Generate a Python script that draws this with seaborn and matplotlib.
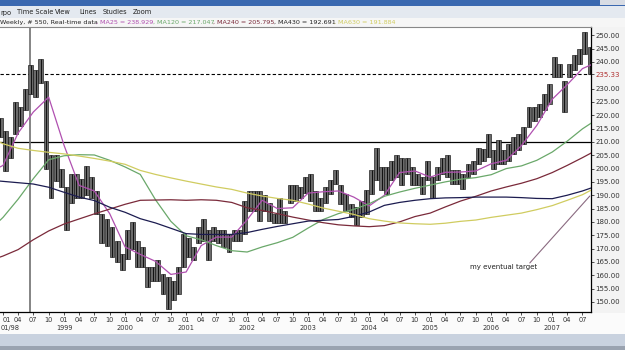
import numpy as np
import pandas as pd
import matplotlib
matplotlib.use("Agg")
import matplotlib.pyplot as plt
from matplotlib.patches import Rectangle
import seaborn as sns

sns.set_theme(style="white")
plt.rcParams["font.family"] = ["DejaVu Sans"]

# ---------------- data ----------------
# monthly price ranges (high / low), Dec 1997 .. Aug 2007
price_months = pd.date_range("1997-12-01", "2007-08-01", freq="MS")
price_high = [219, 214, 212, 225, 223, 230, 239, 237, 241, 233, 205, 205, 200,
              193, 198, 198, 196, 201, 197, 191.5, 183, 181, 178, 173, 168,
              177, 180, 173, 170.6, 163, 163, 165.6, 160.6, 159.3, 158, 163, 175.6,
              174, 170.6, 178, 181, 177, 178, 177, 177, 175.6, 177, 177, 188,
              191.6, 191.6, 191.6, 190, 187, 183, 189, 184, 194, 194, 193, 197,
              198, 191.6, 189, 193, 195.6, 199.3, 194, 190.5, 186.8, 185.6, 188, 192,
              199.3, 207.8, 200.6, 200.6, 203, 205, 204, 204, 200.6, 198, 196.8, 203,
              196.8, 200.6, 204, 205, 199.3, 199.3, 198, 201.8, 203, 207.8, 207.5, 213,
              206.8, 210.6, 206.8, 209.3, 211.8, 213, 215.6, 223, 223, 224.3, 228, 231.8,
              241.8, 239.3, 233, 239.3, 242.5, 245, 251.2, 245.6]
price_low = [212, 199, 204, 213, 216, 222, 228, 227, 232, 200, 189, 195.5, 193,
             177, 187, 189, 189, 190, 189, 183, 172, 171, 167, 165, 162,
             166, 170, 163, 163, 155.6, 158, 158, 153, 147.4, 150.6, 153, 163,
             166.8, 165.6, 172, 173, 165.6, 173, 172, 170.6, 168.7, 173, 173, 175.6,
             184, 184, 180.5, 184, 180.5, 179.5, 179.5, 179.5, 187, 188, 189, 191,
             188, 184, 184, 187, 190.5, 194.3, 186.8, 184, 182, 178.7, 182, 183,
             190.5, 195.6, 192, 190.5, 195.6, 196.8, 194, 198, 194, 193.7, 190.5, 195.6,
             189, 195.6, 198, 196.8, 194.3, 194.3, 192.4, 196.8, 198, 201.8, 203, 204.3,
             200, 201.8, 201.8, 203, 205.6, 206.8, 209.3, 215.6, 218, 219.3, 221.8, 224.3,
             234.3, 234.3, 221.2, 234.3, 236.8, 239.3, 243, 235.6]

# moving averages sampled quarterly (plus window start / end)
ma_dates = ["1997-12-14"] + [f"{y}-{m:02d}-01" for y in range(1998, 2008)
                             for m in (1, 4, 7, 10)][:39] + ["2007-08-21"]
ma25 = [200.6, 201.2, 213.3, 221.2, 226.8, 208.7, 193.7, 191.6, 183.1, 170.6,
        167.8, 165.2, 160.3, 161.2, 171.1, 174.3, 174.3, 180.8, 188.1, 185.0,
        185.3, 190.8, 191.3, 191.6, 189.3, 186.0, 190.0, 198.5, 199.1, 196.8,
        198.6, 198.7, 199.1, 201.8, 203.1, 208.6, 216.2, 226.0, 231.5, 237.5, 238.9]
ma120 = [180.6, 181.7, 188.5, 196.2, 203.3, 204.8, 205.2, 205.1, 203.1, 200.6,
         197.8, 188.3, 180.2, 174.8, 173.3, 171.1, 169.2, 168.7, 170.6, 172.2,
         174.2, 177.7, 180.9, 183.1, 184.7, 186.8, 189.6, 191.2, 192.6, 193.8,
         195.0, 196.0, 196.6, 197.7, 200.0, 201.0, 203.1, 206.2, 210.3, 214.9, 217.0]
ma240 = [166.8, 167.2, 169.6, 173.3, 176.6, 179.2, 181.1, 183.0, 184.8, 186.6,
         188.1, 188.2, 188.3, 188.1, 188.3, 188.1, 187.3, 185.3, 184.3, 183.1,
         181.8, 180.7, 179.7, 178.9, 178.5, 178.2, 178.6, 180.0, 182.0, 183.3,
         185.6, 187.8, 189.6, 191.6, 193.1, 194.5, 196.2, 198.5, 201.2, 204.1, 205.8]
ma430 = [195.3, 195.2, 194.7, 194.2, 193.0, 191.1, 189.3, 188.0, 185.5, 183.6,
         181.2, 179.6, 177.6, 175.6, 175.3, 175.3, 175.3, 176.0, 177.2, 178.3,
         179.3, 180.3, 180.6, 180.9, 182.1, 183.7, 186.2, 187.3, 188.1, 188.7,
         189.0, 189.1, 189.3, 189.3, 189.3, 189.1, 188.8, 188.7, 190.0, 191.6, 192.7]
ma630 = [209.9, 209.3, 207.6, 206.8, 206.1, 205.5, 204.7, 203.8, 202.8, 201.6,
         199.3, 197.8, 196.5, 195.3, 194.2, 193.1, 192.2, 190.8, 189.7, 188.8,
         188.1, 186.7, 185.2, 184.0, 182.8, 181.2, 180.3, 179.6, 179.3, 179.1,
         179.5, 180.2, 180.7, 181.7, 182.5, 183.3, 184.6, 186.1, 188.1, 190.2, 191.9]

ma_names = ["MA25", "MA120", "MA240", "MA430", "MA630"]
ma_last = ["238.929", "217.047", "205.795", "192.691", "191.884"]
ma_colors = ["#b050b0", "#6aa86a", "#7a2a3a", "#1c1c50", "#d0cc60"]

target_dates = ["2006-08-20", "2007-08-14"]
target_values = [164.6, 189.7]
hline_dash = 235.33
hline_solid = 210.0
vline_date = "1998-06-10"


def dec_year(d):
    d = pd.Timestamp(d)
    return d.year + (d.dayofyear - 1) / 365.25


# ---------------- figure ----------------
W, H = 625, 350
fig = plt.figure(figsize=(W / 100, H / 100), dpi=100)
fig.patch.set_facecolor("#f3f3f3")

bg = fig.add_axes([0, 0, 1, 1], zorder=0)
bg.set_xlim(0, W)
bg.set_ylim(H, 0)
bg.axis("off")
# window title bar
bg.add_patch(Rectangle((0, 0), W, 6, color="#3a68b0", lw=0))
bg.add_patch(Rectangle((600, 0), 25, 5, color="#d8dce4", lw=0))
# menu bar
bg.add_patch(Rectangle((0, 6), W, 12, color="#e4e9f0", lw=0))
for txt, xx in [("rpo", 0), ("Time Scale", 17), ("View", 55), ("Lines", 79),
                ("Studies", 103), ("Zoom", 133)]:
    bg.text(xx, 12.5, txt, fontsize=4.8, color="#222222", va="center", ha="left")
# info line
bg.add_patch(Rectangle((0, 18), W, 9, color="#f6f6f6", lw=0))
bg.text(0, 22.5, "Weekly, # 550, Real-time data", fontsize=4.6, color="#222222",
        va="center", ha="left")
info_x = [96, 153, 213, 274, 334]
for name, val, col, xx in zip(ma_names, ma_last, ma_colors, info_x):
    bg.text(xx, 22.5, f", {name} = {val}", fontsize=4.6,
            color=col if name != "MA430" else "#222222", va="center", ha="left")
# bottom scroll bands
bg.add_patch(Rectangle((0, 334), W, 12, color="#c9d2df", lw=0))
bg.add_patch(Rectangle((0, 346), W, 4, color="#9aa3b0", lw=0))
bg.add_patch(Rectangle((0, 313), W, 21, color="#fbfbfb", lw=0, zorder=-1))
bg.text(0.5, 328.3, "01/98", fontsize=4.8, color="#333333", va="center", ha="left")

# main chart axes
ax = fig.add_axes([0, (H - 312) / H, 591 / W, (312 - 27) / H], zorder=2)
ax.set_facecolor("white")

t_price = np.array([dec_year(d + pd.Timedelta(days=14)) for d in price_months])
hi = np.array(price_high)
lo = np.array(price_low)
ax.bar(t_price, hi - lo, bottom=lo, width=0.08, color="#6a6a6a",
       edgecolor="#151515", linewidth=0.45, zorder=3)
ax.vlines(t_price, lo, hi, color="#111111", lw=0.7, zorder=3)

t_ma = [dec_year(d) for d in ma_dates]
ma_df = pd.DataFrame({"t": t_ma * 5,
                      "value": ma25 + ma120 + ma240 + ma430 + ma630,
                      "ma": sum([[n] * len(t_ma) for n in ma_names], [])})
sns.lineplot(data=ma_df, x="t", y="value", hue="ma", palette=dict(zip(ma_names, ma_colors)),
             linewidth=0.9, legend=False, ax=ax, zorder=4)

ax.plot([dec_year(d) for d in target_dates], target_values, color="#8a6a80",
        lw=0.8, zorder=4)
ax.text(dec_year("2005-08-28"), 162.9, "my eventual target", fontsize=5,
        color="#222222", va="center", ha="left")

ax.axhline(hline_dash, color="black", lw=0.8, ls=(0, (3, 2)), zorder=2)
ax.axhline(hline_solid, color="black", lw=0.9, zorder=2)
ax.axvline(dec_year(vline_date), color="#707070", lw=1.2, zorder=2)

ax.set_xlim(dec_year("1997-12-14"), dec_year("2007-08-21"))
ax.set_ylim(146.2, 253.1)

# y axis on the right
yt = [v for v in range(150, 255, 5) if v != 235] + [hline_dash]
ax.yaxis.tick_right()
ax.set_yticks(yt)
ax.set_yticklabels([f"{v:.2f}" for v in yt])
ax.tick_params(axis="y", right=True, length=2, width=0.6, pad=1, labelsize=5,
               colors="#333333")
for lab, v in zip(ax.get_yticklabels(), yt):
    lab.set_color("#b03030" if v == hline_dash else "#333333")

# x axis quarterly ticks
xt, xl = [], []
for y in range(1998, 2008):
    for m in (1, 4, 7, 10):
        if y == 2007 and m == 10:
            continue
        xt.append(dec_year(f"{y}-{m:02d}-01"))
        if m == 1:
            xl.append("01" if y == 1998 else f"01\n{y}")
        else:
            xl.append(f"{m:02d}")
ax.set_xticks(xt)
ax.set_xticklabels(xl, linespacing=1.5)
ax.tick_params(axis="x", bottom=True, length=2, width=0.6, pad=1.5, labelsize=4.8,
               colors="#333333")
first = ax.get_xticklabels()[0]
first.set_horizontalalignment("left")
ax.set_xlabel("")
ax.set_ylabel("")
for s in ["right", "bottom"]:
    ax.spines[s].set_color("black")
    ax.spines[s].set_linewidth(0.9)
ax.spines["top"].set_color("#888888")
ax.spines["top"].set_linewidth(0.8)
ax.spines["left"].set_visible(False)
ax.grid(False)

fig.savefig("out.png", dpi=100, facecolor=fig.get_facecolor())
